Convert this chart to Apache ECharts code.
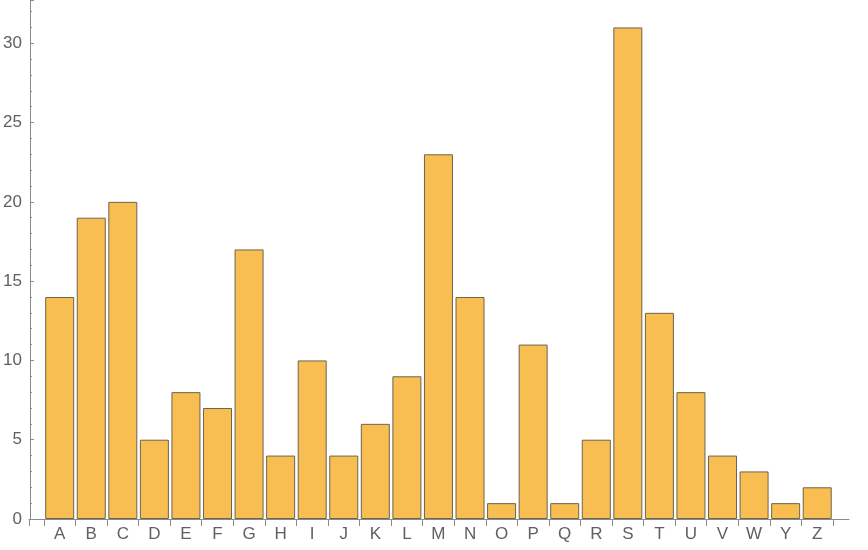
<!DOCTYPE html>
<html><head><meta charset="utf-8">
<script src="https://cdn.jsdelivr.net/npm/echarts@6/dist/echarts.min.js"></script>
<style>html,body{margin:0;padding:0;background:#fff}#c{width:868px;height:550px}</style>
</head><body><div id="c"></div>
<script>
const categories = ['A','B','C','D','E','F','G','H','I','J','K','L','M','N','O','P','Q','R','S','T','U','V','W','Y','Z'];
const values = [14,19,20,5,8,7,17,4,10,4,6,9,23,14,1,11,1,5,31,13,8,4,3,1,2];
const yTicks = [0,5,10,15,20,25,30];

const chart = echarts.init(document.getElementById('c'), null, {renderer:'canvas'});
const axisColor = '#8a8a8a';
const labelColor = '#606060';
chart.setOption({
  animation:false,
  grid:[
    {left:43, right:35, top:0, bottom:31, containLabel:false},
    {left:29, right:19, top:0, bottom:31, containLabel:false}
  ],
  xAxis:[
    {type:'category', gridIndex:0, data:categories,
     axisLine:{show:false},
     axisTick:{show:true, length:7, lineStyle:{color:axisColor}},
     axisLabel:{color:labelColor, fontSize:17, fontFamily:'Liberation Sans, Arial, sans-serif', margin:7}},
    {type:'value', gridIndex:1, min:0, max:1,
     axisLine:{show:true, lineStyle:{color:axisColor}},
     axisTick:{show:true, length:7, customValues:[0], lineStyle:{color:axisColor}},
     axisLabel:{show:false}, splitLine:{show:false}}
  ],
  yAxis:[
    {type:'value', gridIndex:0, min:0, max:32.73, interval:5, offset:14,
     axisLine:{show:true, lineStyle:{color:axisColor}},
     axisTick:{show:true, inside:true, length:4, lineStyle:{color:axisColor}},
     minorTick:{show:true, splitNumber:5, length:2, lineStyle:{color:axisColor}},
     axisLabel:{color:labelColor, fontSize:17, fontFamily:'Liberation Sans, Arial, sans-serif', margin:8, showMaxLabel:false,
       formatter:v=> yTicks.includes(v) ? String(v) : ''},
     splitLine:{show:false}},
    {type:'value', gridIndex:1, show:false}
  ],
  series:[{
    type:'bar', xAxisIndex:0, yAxisIndex:0, data:values,
    barWidth:29,
    itemStyle:{color:'#F9BE52', borderColor:'#6e6350', borderWidth:1}
  }]
});
</script></body></html>
